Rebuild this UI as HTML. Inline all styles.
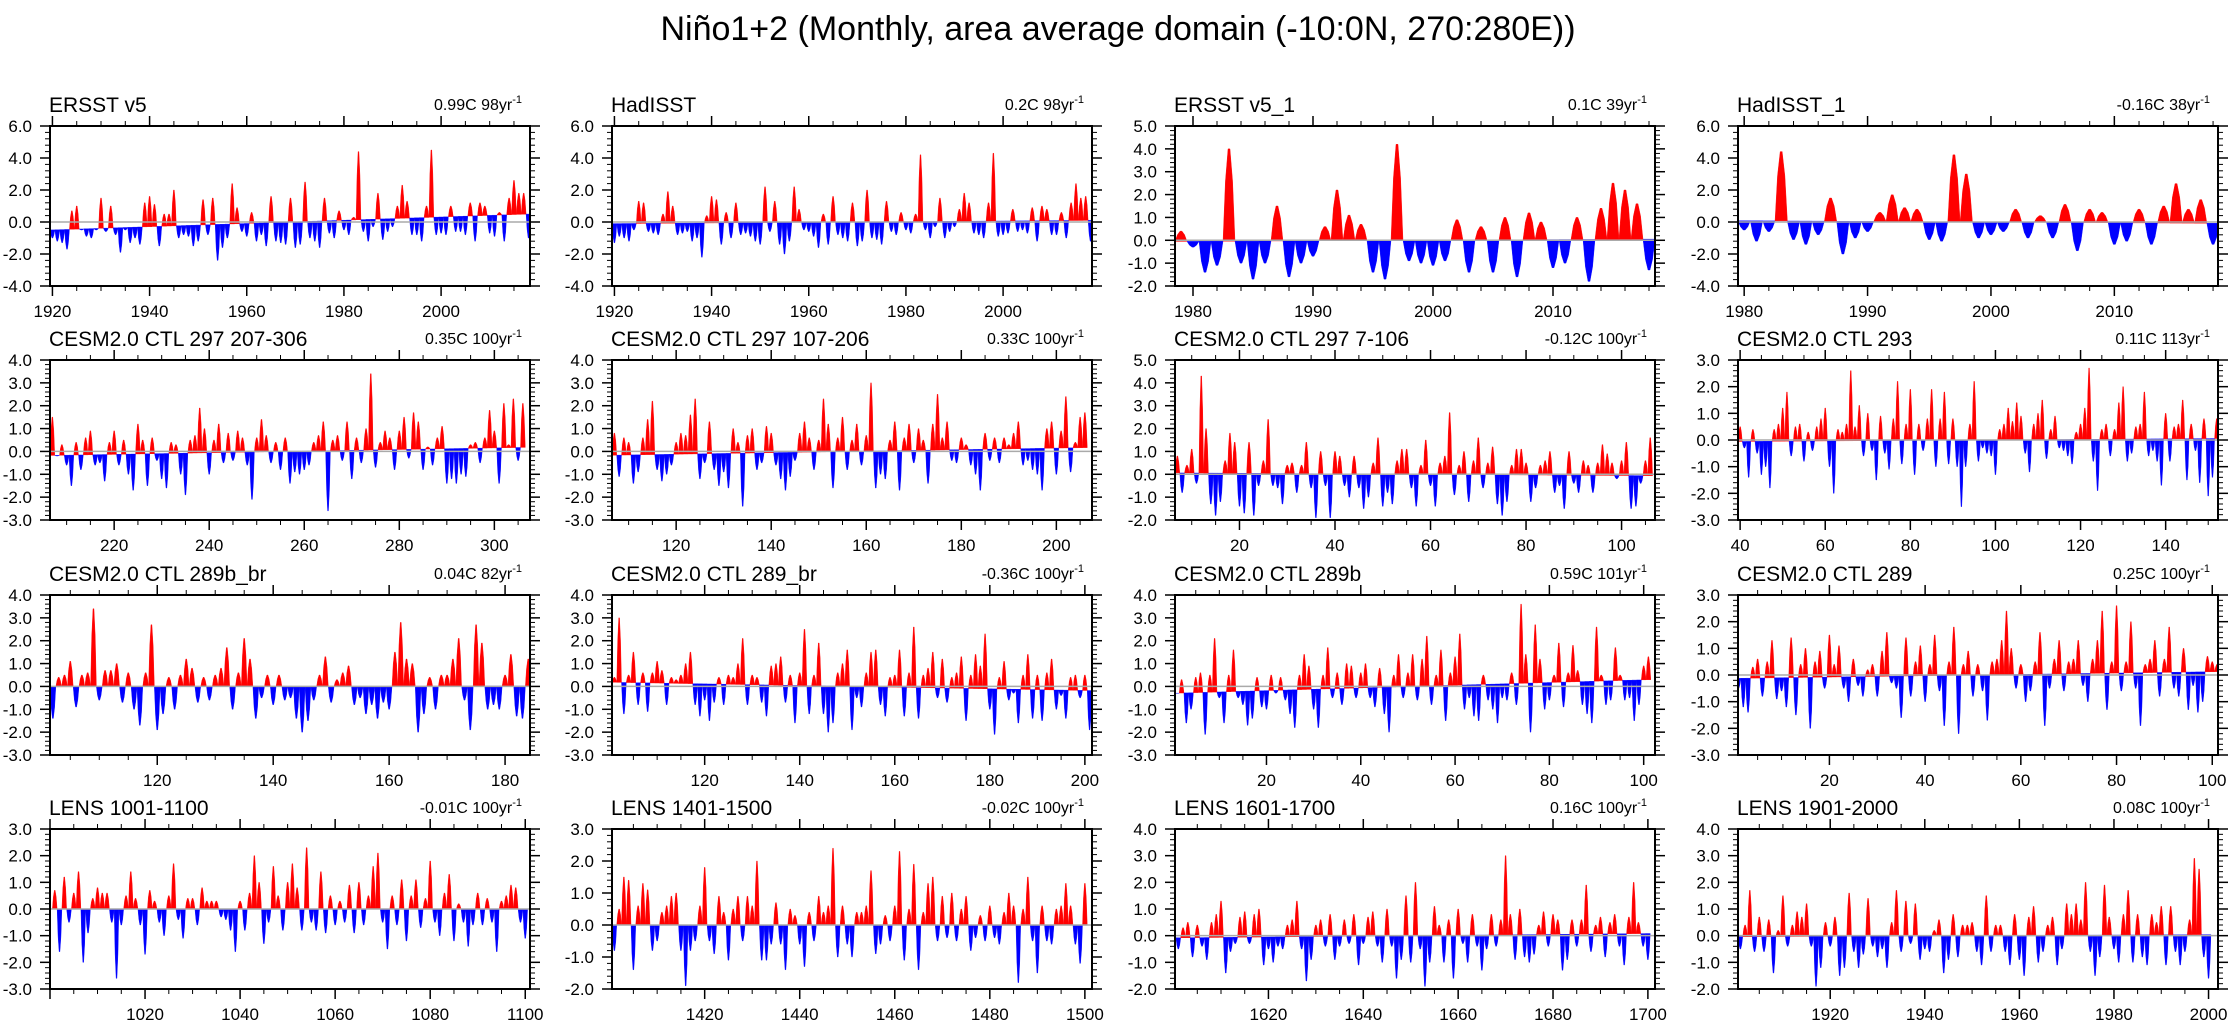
<!DOCTYPE html>
<html><head><meta charset="utf-8"><title>Niño1+2</title>
<style>
html,body{margin:0;padding:0;background:#fff;}
svg{display:block;font-family:"Liberation Sans",sans-serif;}
</style></head>
<body>
<svg id="chart" width="2236" height="1027" viewBox="0 0 2236 1027" xmlns="http://www.w3.org/2000/svg">
<rect x="0" y="0" width="2236" height="1027" fill="#fff"/>
<text x="1118" y="40" text-anchor="middle" font-size="34" fill="#000">Niño1+2 (Monthly, area average domain (-10:0N, 270:280E))</text>
<g id="panels"></g>
</svg>
<script>
// ---- data: one value per year (°C), first year given in config ----
const ersstV5 = [-1.0,-1.2,-1.3,-1.7,0.7,1.0,-0.5,-0.9,-1.0,-0.5,1.5,-0.6,1.0,-0.8,-1.9,-0.5,-1.3,-1.0,-1.4,1.2,1.6,1.1,-1.5,0.5,0.5,2.0,-1.0,-0.8,-0.9,-1.5,-1.2,1.4,-0.8,1.5,-2.4,-1.6,-1.0,2.4,0.9,-0.6,-0.9,0.6,-1.2,-0.8,-1.5,1.6,-1.2,-1.3,-1.4,1.5,-1.6,-1.4,2.5,-1.0,-1.2,-1.6,1.5,-0.7,-1.0,0.7,-0.5,-0.8,0.3,4.4,-0.6,-1.2,-0.3,1.8,-1.1,-0.6,-0.3,1.0,2.3,1.3,-0.8,-0.8,-1.2,1.0,4.5,-0.8,-0.7,-0.8,1.0,-0.6,-0.6,-0.8,1.2,-1.2,1.2,1.0,-0.7,-0.9,0.6,-1.2,1.5,2.6,1.8,1.8,-1.0];
const hadisst = [-1.3,-0.9,-1.0,-1.2,-0.5,1.3,1.2,-0.6,-0.7,-0.8,0.5,1.9,1.0,-0.8,-0.7,-0.6,-1.2,-1.0,-2.2,0.4,1.6,1.4,-1.4,0.6,-1.0,1.2,-0.8,-0.7,-0.9,-1.2,-1.4,2.2,-0.6,1.3,-1.4,-2.0,-1.2,2.2,0.8,-0.5,-0.6,-0.9,-1.6,0.5,-1.4,1.6,-0.8,-1.0,-1.2,1.2,-1.5,-1.2,2.0,-1.0,-1.1,-1.4,1.3,-0.6,-0.8,0.6,-0.5,-0.7,0.5,4.2,-0.5,-1.0,-0.3,1.5,-1.0,-0.6,-0.3,0.8,1.8,1.2,-0.7,-0.8,-1.0,1.2,4.3,-0.9,-0.8,-0.7,0.8,-0.6,-0.5,-0.7,0.9,-1.2,1.0,0.8,-0.8,-0.8,0.6,-1.0,1.2,2.4,1.5,1.6,-1.2];
const ersstV5_1 = [0.4,-0.3,-1.4,-1.1,4.0,-1.0,-1.7,-1.0,1.5,-1.6,-1.0,-0.7,0.6,2.2,1.1,0.7,-1.4,-1.7,4.2,-0.9,-1.0,-1.1,-0.9,0.9,-1.4,0.6,-1.4,1.0,-1.6,1.2,0.8,-1.2,-1.0,1.0,-1.8,1.4,2.5,2.2,1.6,-1.3];
const hadisst_1 = [-0.5,-1.2,-0.6,4.4,-1.1,-1.4,-0.8,1.5,-2.0,-1.0,-0.6,0.6,1.7,0.9,0.8,-1.1,-1.2,4.2,3.0,-1.0,-0.8,-0.6,0.8,-1.0,0.4,-1.0,1.1,-1.8,0.8,0.6,-1.4,-1.2,0.8,-1.4,1.0,2.4,0.8,1.4,-1.4];
const ctl297a = [1.5,-0.2,0.3,-0.6,-1.5,0.4,-0.8,0.6,0.9,-0.6,-0.5,-1.3,0.4,0.9,-0.6,0.5,-1.0,-1.7,1.2,0.5,-1.5,0.6,-0.4,-1.2,-1.6,0.4,0.3,-1.0,-1.9,0.5,0.7,1.9,1.0,-1.0,0.5,1.2,-0.5,0.8,-0.4,0.9,0.6,-0.6,-2.1,0.6,1.4,0.7,-0.5,0.4,-0.8,0.6,-1.4,-0.9,-1.0,-0.8,-0.6,0.4,0.7,1.3,-2.6,0.5,0.7,-0.4,1.3,-1.2,0.6,-0.5,1.0,3.4,-0.7,0.4,0.9,0.6,-0.8,0.9,1.5,-0.3,1.7,1.3,-0.8,0.2,-0.6,0.6,1.1,-1.4,-1.2,-1.4,-1.0,-1.1,0.3,0.4,-0.5,0.6,1.8,0.9,-1.4,2.1,0.3,2.3,-0.4,2.1];
const ctl297b = [0.8,-1.1,0.6,0.4,-1.4,-0.9,0.6,1.4,2.2,-0.8,-1.3,-1.0,-0.6,0.4,0.8,0.7,1.6,2.3,-1.2,-0.5,1.3,-0.8,-1.5,-0.9,-1.6,1.0,0.4,-2.4,0.7,1.0,-0.8,-0.5,1.1,0.8,-0.6,-1.2,-1.7,-1.1,-0.4,0.8,1.3,0.6,-0.8,0.5,2.3,1.2,-1.6,0.6,1.5,-0.8,0.5,1.2,-0.6,0.7,3.0,-1.6,-1.0,-1.2,0.5,1.3,-1.7,0.6,1.2,-0.5,1.0,0.5,-1.4,1.2,2.5,0.6,1.3,-0.4,-0.5,0.6,0.3,-0.6,-1.0,-1.7,0.8,-0.4,0.6,-0.5,0.6,0.3,0.8,1.3,-0.6,-0.4,-0.8,-1.0,-1.7,1.0,1.3,-1.0,0.9,2.4,-0.9,0.4,1.5,1.7];
const ctl297c = [0.8,-0.8,0.4,1.1,-0.4,4.3,2.0,-1.3,-1.8,-1.2,0.6,1.8,1.4,-1.4,-1.7,1.4,-1.8,-0.5,0.6,2.4,-0.5,-0.6,-1.3,0.4,0.5,-0.8,0.4,1.4,-0.6,-1.9,1.0,-0.5,-1.9,1.0,0.8,-0.5,-1.0,0.8,-0.6,-1.5,-1.0,0.5,1.6,-1.4,-0.8,-1.3,0.6,1.1,1.1,-0.6,-1.4,0.4,1.5,-0.5,-1.4,0.5,0.8,2.7,-0.9,0.4,1.0,-1.2,0.6,1.6,-0.6,0.5,1.2,-1.3,-1.8,-1.2,0.4,1.1,1.1,0.5,-1.2,-0.6,0.4,0.6,1.0,-0.8,-0.5,-1.5,1.0,-0.4,-0.8,0.6,0.4,-0.8,0.5,1.3,0.9,0.5,-0.2,0.6,1.4,-1.5,-1.4,-0.4,0.6,1.6];
const ctl293 = [0.5,-0.3,-1.4,0.4,-0.5,-1.3,-1.0,-1.8,0.4,0.6,1.2,1.8,-0.6,0.5,0.6,-0.8,0.3,-0.4,0.5,0.8,1.2,-1.0,-2.0,0.4,0.3,0.6,2.6,0.5,1.3,-0.6,1.0,-0.4,-1.5,0.9,-0.5,-1.1,0.8,2.2,-0.9,0.6,1.9,-1.3,0.6,-0.4,0.8,1.9,-1.0,0.8,1.8,-0.9,0.8,-1.0,-2.5,-1.0,0.6,2.2,-0.8,-0.3,-0.5,-0.6,-1.3,0.4,0.6,1.2,0.7,1.4,0.9,-0.5,-1.2,0.6,1.0,1.5,-0.7,0.4,0.9,-0.3,-0.4,-0.6,-0.9,0.3,0.6,1.2,2.7,-0.8,-1.9,0.4,0.6,-0.6,0.4,1.4,2.0,-0.8,-0.5,0.5,0.6,1.8,-0.6,-0.4,-0.8,-1.7,1.0,-0.8,0.5,0.6,1.5,-1.5,0.6,-0.4,-1.6,0.8,-2.1,-1.4,0.8];
const ctl289b_br = [-1.4,0.4,0.5,1.1,-0.9,0.5,0.6,3.4,-0.6,0.7,0.7,1.0,-0.7,0.6,-1.0,-1.7,0.6,2.7,-1.9,-1.2,0.4,-1.0,0.5,1.2,0.8,-0.7,0.4,-0.6,0.5,0.8,1.7,-1.0,0.6,2.1,1.2,-1.4,-0.5,0.5,-0.8,0.5,-0.6,-0.5,-1.4,-2.0,-1.5,-0.6,0.5,1.3,-0.7,0.3,0.6,0.9,-0.8,-0.5,-1.2,-0.8,-1.4,-0.7,-1.0,1.5,2.8,1.2,1.0,-2.0,-1.2,0.4,-1.0,0.5,0.5,1.2,2.1,-0.6,-1.9,2.7,1.9,-1.0,-0.8,-1.0,0.5,1.4,-1.3,-1.4,1.2];
const ctl289_br = [0.4,3.0,-1.2,0.5,1.5,-0.8,0.6,-1.1,0.6,1.1,0.7,-0.8,0.4,0.3,0.5,1.0,1.5,-0.8,-1.3,-0.6,-1.5,-0.7,0.4,-0.8,0.5,0.4,1.0,2.1,-0.8,0.5,0.4,-0.7,-1.3,0.9,1.0,1.3,-0.7,0.5,-1.6,0.6,2.5,-1.2,0.5,1.9,-1.2,-2.0,-1.6,0.6,1.0,1.6,-1.9,-0.5,-0.9,0.6,1.5,1.6,-0.8,-1.3,0.4,0.5,1.6,-1.3,0.6,2.6,-1.4,0.5,0.8,1.5,-0.5,1.2,-0.7,0.4,0.6,1.3,-1.5,0.5,1.4,0.9,2.3,-1.0,-2.1,0.4,1.1,-0.6,-0.3,-1.6,0.5,1.4,-1.4,0.5,-1.5,0.6,1.2,-1.0,-0.4,-1.4,0.4,0.5,-0.5,0.5,-1.9];
const ctl289b = [-0.3,0.3,-1.6,-1.0,0.4,0.6,-2.1,0.5,2.1,-0.5,-1.6,0.5,1.6,-0.5,-0.8,-1.7,-1.4,0.4,-0.9,-1.0,0.5,-0.3,0.4,-0.6,-1.2,-1.8,0.5,1.4,0.9,-1.0,-1.8,0.5,1.7,-0.5,0.6,-0.8,1.0,0.9,-0.5,0.6,1.0,-0.5,-0.9,0.8,-1.2,-2.0,0.5,1.4,-0.5,0.6,1.4,-0.6,1.2,2.2,-0.8,0.5,1.6,-1.5,0.6,1.3,2.3,-1.0,-0.5,-1.3,-1.5,0.5,-0.6,-1.0,-1.6,-0.5,-0.6,0.6,-0.8,3.6,1.4,-2.0,2.7,1.2,-1.0,-0.6,0.5,1.9,-0.9,0.6,1.8,0.7,-0.8,-1.2,-1.6,2.6,0.5,-0.8,-0.6,1.7,0.5,-0.6,-0.5,-1.5,-0.8,0.9,1.3];
const ctl289 = [-0.5,-1.2,-1.4,0.3,0.6,-0.8,0.5,1.3,-0.9,-0.6,-1.2,1.4,-1.5,0.4,1.0,-2.0,0.5,0.9,-0.5,1.5,0.4,1.1,-0.5,-1.0,0.6,-0.4,-0.8,0.2,0.4,-0.8,0.9,1.6,-0.3,-0.5,-1.6,1.4,-0.8,0.5,1.1,-1.0,0.4,1.5,-0.6,-1.9,0.5,1.8,-2.2,0.4,0.9,-0.8,0.4,-0.6,-1.7,0.5,0.6,1.3,2.4,1.0,-0.5,0.4,-1.0,-0.6,0.5,1.6,-1.9,-0.5,0.6,1.3,-0.6,0.5,0.6,1.3,-0.4,-1.0,0.6,1.3,2.4,-1.3,0.5,2.6,-0.6,0.5,2.0,-0.5,-1.9,0.4,0.6,1.3,-0.8,0.6,1.8,-0.5,-0.8,1.0,-1.3,-0.4,-1.4,-1.0,0.7,0.5,0.4];
const lens1001 = [0.7,-1.6,1.2,-0.5,0.6,1.4,-2.0,-0.9,0.4,0.8,0.6,0.6,-0.5,-2.6,-0.6,0.5,1.4,0.4,-0.6,-1.7,0.7,0.3,-0.5,-1.0,0.5,1.7,-0.4,-1.1,0.4,0.4,-0.6,0.8,0.3,0.3,0.3,-0.3,-0.4,-0.8,-1.6,0.3,-0.8,0.6,2.0,1.0,-1.3,-0.5,1.6,0.5,-0.8,1.0,1.7,0.8,-0.8,2.3,-0.5,-0.8,1.4,-0.9,0.5,-0.6,0.3,-0.5,0.9,-0.9,1.0,-0.6,0.5,1.6,2.1,-0.5,-1.5,0.5,-0.6,1.1,-1.2,0.5,1.1,-0.7,0.4,1.8,-0.5,-1.0,0.6,1.3,-1.2,0.2,-0.5,-1.4,-0.6,0.6,-0.6,0.4,-0.5,-1.6,0.3,0.5,0.9,0.8,-0.5,-1.1];
const lens1401 = [-0.8,0.5,1.5,1.4,-1.4,0.6,1.3,1.1,-0.8,-0.5,0.4,0.6,0.9,1.0,-0.8,-1.9,-0.8,-0.5,0.6,1.8,-0.5,-0.9,0.9,0.4,-1.1,0.5,0.9,-0.5,0.9,0.6,2.0,-1.1,-1.1,-0.6,0.7,-0.6,-1.4,0.5,0.3,-0.6,-1.3,0.4,-0.5,0.9,0.4,0.6,2.4,-1.0,0.6,-0.6,-1.0,0.4,0.4,0.6,1.7,-0.9,-0.6,0.3,-0.5,0.6,2.3,-1.1,0.5,1.9,-1.4,0.4,1.3,1.5,-0.5,0.9,-0.4,1.0,-0.5,0.5,0.9,-0.8,-0.4,0.3,-0.5,0.6,-0.4,-0.6,0.4,1.0,0.6,-1.8,0.5,1.5,-0.5,-1.5,0.6,-0.5,-0.6,0.5,0.6,1.3,0.6,-0.6,-1.2,1.3];
const lens1601 = [-0.5,0.3,0.5,-0.8,0.4,-0.4,-0.9,0.5,0.8,1.3,-1.4,-0.6,-0.3,0.7,0.9,-0.3,0.8,1.0,-1.1,-0.5,-1.0,-0.4,-0.5,0.4,0.6,1.3,-0.5,-1.7,-0.9,0.4,0.6,-0.4,0.8,-0.9,-0.4,0.6,-0.3,0.8,-1.1,-0.3,0.7,0.9,-0.4,-1.0,1.0,-0.4,-1.6,-0.9,1.5,-1.0,2.0,-0.5,-1.9,-1.0,1.1,0.4,-1.0,0.6,-1.6,1.0,-0.3,-1.0,0.8,-0.4,-1.3,-0.5,0.8,-0.4,0.6,3.0,0.8,-0.9,1.0,-0.8,-1.0,-0.7,0.4,0.9,-0.4,0.8,0.6,-1.3,-0.9,0.6,-0.4,0.6,1.9,-0.6,0.4,0.7,-0.8,0.5,0.8,-0.4,-1.1,0.7,2.0,0.5,-0.4,-0.9];
const lens1901 = [-0.5,0.4,1.7,-0.6,0.7,-0.6,0.6,-1.4,0.2,1.5,-0.4,0.4,0.9,0.7,1.2,-0.4,-1.9,-1.2,0.5,-0.4,0.7,-1.5,-1.2,1.6,-0.6,-1.2,-0.7,1.4,-0.4,-0.8,-0.5,-1.2,0.5,1.7,-0.6,1.3,-0.3,1.2,-0.9,-0.5,-0.6,0.2,0.6,-1.4,-0.9,0.8,-0.8,0.4,0.4,0.5,-0.6,-1.1,1.5,-0.6,0.4,0.4,-0.6,-1.1,0.8,-0.9,-1.5,0.7,1.1,-1.0,-0.6,0.4,0.7,-1.1,-0.5,1.2,0.8,1.2,0.6,2.0,-0.6,-1.5,-0.8,1.9,0.7,-0.5,-1.0,0.8,1.7,-1.0,0.8,-0.8,-1.1,0.8,0.5,1.1,-1.1,1.1,-0.6,-1.1,-0.6,0.6,2.9,2.5,-0.8,-1.6];

// ---- panel layout / axes configuration ----
const colLeft = [50, 612, 1175, 1738];
const rowTop = [126, 360, 595, 829];
const PW = 480, PH = 160;
const panels = [
 {name:'ersst-v5', title:'ERSST v5', right:'0.99C 98yr', data:ersstV5, first:1920, trend:0.99, x0:1919.5, x1:2018.3, xt:[1920,2000,20], xm:5, y:[-4,6,2]},
 {name:'hadisst', title:'HadISST', right:'0.2C 98yr', data:hadisst, first:1920, trend:0.2, x0:1919.5, x1:2018.3, xt:[1920,2000,20], xm:5, y:[-4,6,2]},
 {name:'ersst-v5-1', title:'ERSST v5_1', right:'0.1C 39yr', data:ersstV5_1, first:1979, trend:0.1, x0:1978.5, x1:2018.5, xt:[1980,2010,10], xm:2, y:[-2,5,1]},
 {name:'hadisst-1', title:'HadISST_1', right:'-0.16C 38yr', data:hadisst_1, first:1980, trend:-0.16, x0:1979.5, x1:2018.4, xt:[1980,2010,10], xm:2, y:[-4,6,2]},
 {name:'cesm-297-207-306', title:'CESM2.0 CTL 297 207-306', right:'0.35C 100yr', data:ctl297a, first:207, trend:0.35, x0:206.5, x1:307.5, xt:[220,300,20], xm:5, y:[-3,4,1]},
 {name:'cesm-297-107-206', title:'CESM2.0 CTL 297 107-206', right:'0.33C 100yr', data:ctl297b, first:107, trend:0.33, x0:106.5, x1:207.5, xt:[120,200,20], xm:5, y:[-3,4,1]},
 {name:'cesm-297-7-106', title:'CESM2.0 CTL 297 7-106', right:'-0.12C 100yr', data:ctl297c, first:7, trend:-0.12, x0:6.5, x1:107, xt:[20,100,20], xm:5, y:[-2,5,1]},
 {name:'cesm-293', title:'CESM2.0 CTL 293', right:'0.11C 113yr', data:ctl293, first:40, trend:0.11, x0:39.5, x1:152.3, xt:[40,140,20], xm:5, y:[-3,3,1]},
 {name:'cesm-289b-br', title:'CESM2.0 CTL 289b_br', right:'0.04C 82yr', data:ctl289b_br, first:102, trend:0.04, x0:101.5, x1:184.3, xt:[120,180,20], xm:5, y:[-3,4,1]},
 {name:'cesm-289-br', title:'CESM2.0 CTL 289_br', right:'-0.36C 100yr', data:ctl289_br, first:101, trend:-0.36, x0:100.5, x1:201.5, xt:[120,200,20], xm:5, y:[-3,4,1]},
 {name:'cesm-289b', title:'CESM2.0 CTL 289b', right:'0.59C 101yr', data:ctl289b, first:1, trend:0.59, x0:0.6, x1:102.4, xt:[20,100,20], xm:5, y:[-3,4,1]},
 {name:'cesm-289', title:'CESM2.0 CTL 289', right:'0.25C 100yr', data:ctl289, first:1, trend:0.25, x0:0.9, x1:101.2, xt:[20,100,20], xm:5, y:[-3,3,1]},
 {name:'lens-1001-1100', title:'LENS 1001-1100', right:'-0.01C 100yr', data:lens1001, first:1001, trend:-0.01, x0:1000, x1:1101, xt:[1020,1100,20], xm:5, y:[-3,3,1]},
 {name:'lens-1401-1500', title:'LENS 1401-1500', right:'-0.02C 100yr', data:lens1401, first:1401, trend:-0.02, x0:1400.5, x1:1501.5, xt:[1420,1500,20], xm:5, y:[-2,3,1]},
 {name:'lens-1601-1700', title:'LENS 1601-1700', right:'0.16C 100yr', data:lens1601, first:1601, trend:0.16, x0:1600.3, x1:1701.5, xt:[1620,1700,20], xm:5, y:[-2,4,1]},
 {name:'lens-1901-2000', title:'LENS 1901-2000', right:'0.08C 100yr', data:lens1901, first:1901, trend:0.08, x0:1900.5, x1:2002, xt:[1920,2000,20], xm:5, y:[-2,4,1]}
];

const NS = 'http://www.w3.org/2000/svg';
const root = document.getElementById('panels');
function mk(tag, attrs, parent){
  const e = document.createElementNS(NS, tag);
  for (const k in attrs) e.setAttribute(k, attrs[k]);
  parent.appendChild(e);
  return e;
}
function line(p, x1, y1, x2, y2, w, c){
  return mk('line', {x1:x1, y1:y1, x2:x2, y2:y2, stroke:c||'#000', 'stroke-width':w||1.5}, p);
}

panels.forEach((cfg, idx) => {
  const L = colLeft[idx % 4], T = rowTop[Math.floor(idx / 4)];
  const B = T + PH, R = L + PW;
  const [yMin, yMax, yStep] = cfg.y;
  const xs = t => L + (t - cfg.x0) / (cfg.x1 - cfg.x0) * PW;
  const ys = v => T + (yMax - v) / (yMax - yMin) * PH;
  const n = cfg.data.length;
  const tFirst = cfg.first, tLast = cfg.first + n - 1;
  const base = t => cfg.trend * ((t - tFirst) / Math.max(1, tLast - tFirst) - 0.5);

  const g = mk('g', {}, root);
  
  

  const tl = mk('text', {x:L - 1, y:T - 14, 'font-size':21, fill:'#000'}, g);
  tl.textContent = cfg.title;
  
  
  const tr = mk('text', {x:R - 8, y:T - 16, 'font-size':16, fill:'#000', 'text-anchor':'end'}, g);
  
  
  tr.appendChild(document.createTextNode(cfg.right));
  const sup = mk('tspan', {dy:-7, 'font-size':11}, tr);
  sup.textContent = '-1';

  const cid = 'clip' + idx;
  const cp = mk('clipPath', {id:cid}, g);
  mk('rect', {x:L, y:T, width:PW, height:PH}, cp);
  const marks = mk('g', {'clip-path':'url(#' + cid + ')'}, g);
  
  

  cfg.data.forEach((v, i) => {
    const t = tFirst + i;
    const b = base(t);
    const pts = [[t - 0.5, b], [t - 0.3, (v + b) / 2 + (v - b) * 0.15], [t - 0.08, v], [t + 0.08, v], [t + 0.3, (v + b) / 2 + (v - b) * 0.15], [t + 0.5, b]]
      .map(p => xs(p[0]).toFixed(2) + ',' + ys(p[1]).toFixed(2)).join(' ');
    const col = v >= b ? '#ff0000' : '#0000ff';
    const poly = mk('polygon', {points:pts, fill:col, stroke:col, 'stroke-width':0.4}, marks);
    
    
  });
  const zl = line(marks, L, ys(0), R, ys(0), 1.5, '#aaaaaa');
  
  

  const fr = mk('rect', {x:L, y:T, width:PW, height:PH, fill:'none', stroke:'#000', 'stroke-width':2}, g);
  
  

  const yAxis = mk('g', {}, g);
  
  
  const nMinor = 5;
  for (let v = yMin; v <= yMax + 1e-9; v += yStep) {
    const y = ys(v);
    line(yAxis, L - 10, y, L, y, 1.5);
    line(yAxis, R, y, R + 10, y, 1.5);
    const lb = mk('text', {x:L - 18, y:y + 6, 'font-size':17, 'text-anchor':'end', fill:'#000'}, yAxis);
    lb.textContent = v.toFixed(1);
    if (v + yStep <= yMax + 1e-9) {
      for (let k = 1; k < nMinor; k++) {
        const ym = ys(v + yStep * k / nMinor);
        line(yAxis, L - 5, ym, L, ym, 1);
        line(yAxis, R, ym, R + 5, ym, 1);
      }
    }
  }
  const xAxis = mk('g', {}, g);
  
  
  const [xa, xb, xstep] = cfg.xt;
  const startMinor = Math.ceil(cfg.x0 / cfg.xm) * cfg.xm;
  for (let t = startMinor; t <= cfg.x1; t += cfg.xm) {
    const x = xs(t);
    const major = ((t - xa) % xstep === 0);
    const len = major ? 10 : 5;
    line(xAxis, x, B, x, B + len, major ? 1.5 : 1);
    line(xAxis, x, T - len, x, T, major ? 1.5 : 1);
  }
  for (let t = xa; t <= xb; t += xstep) {
    const lb = mk('text', {x:xs(t), y:B + 31, 'font-size':17, 'text-anchor':'middle', fill:'#000'}, xAxis);
    lb.textContent = String(t);
  }
});
</script>
</body></html>
